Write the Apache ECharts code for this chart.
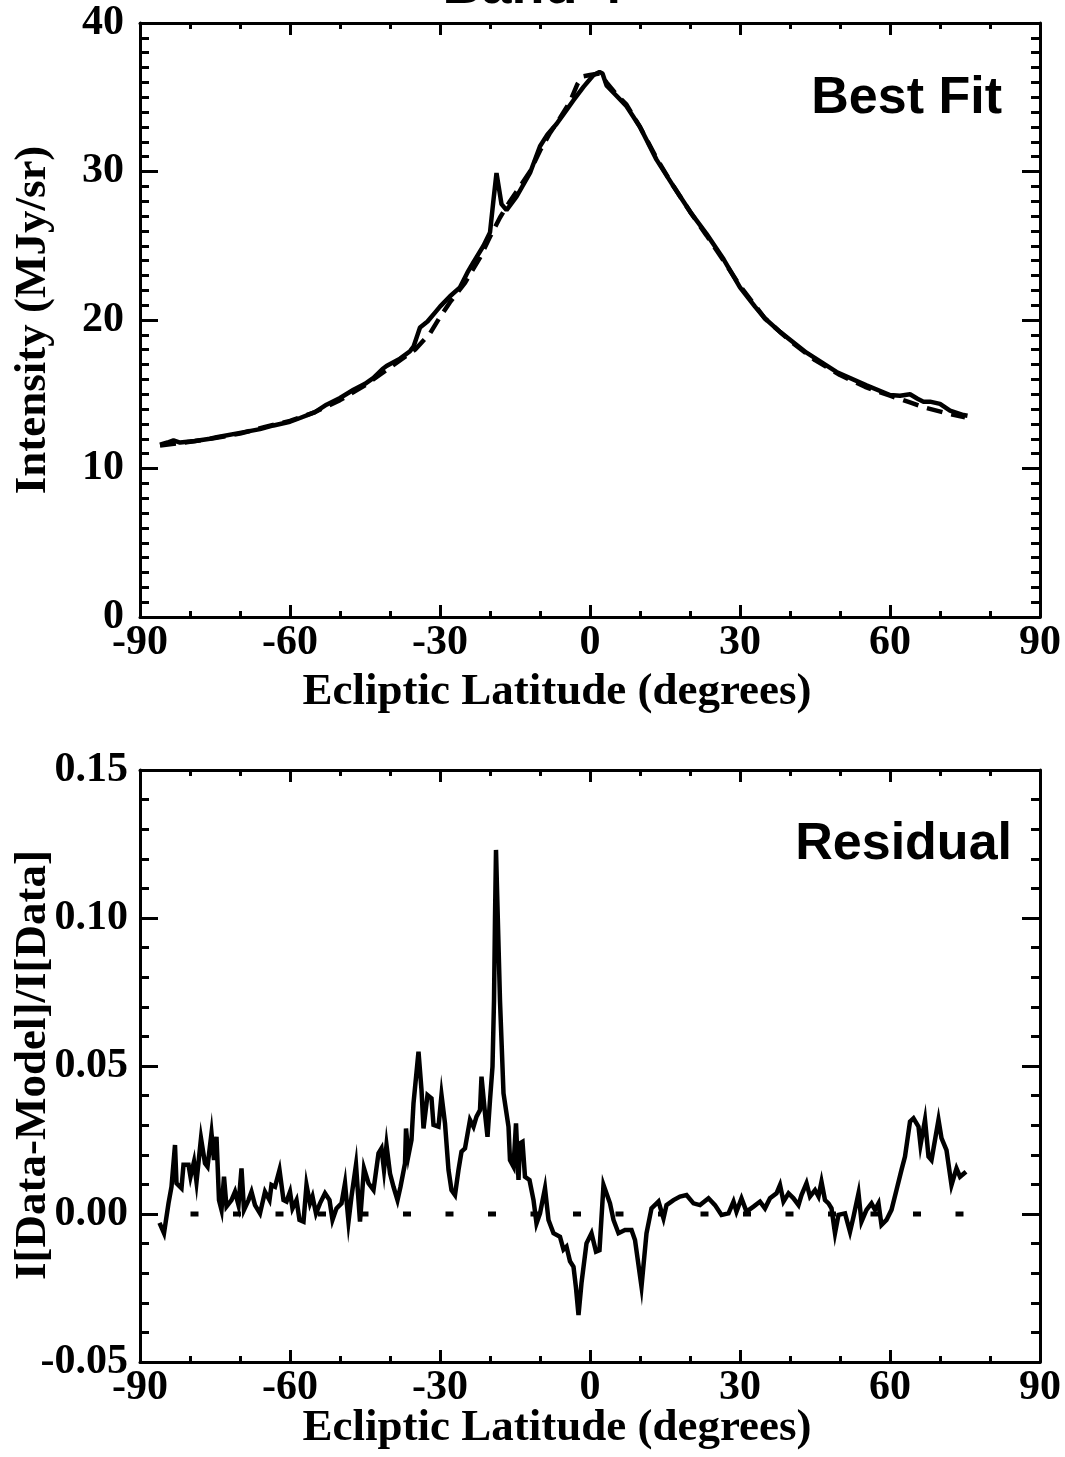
<!DOCTYPE html>
<html>
<head>
<meta charset="utf-8">
<script src="https://cdn.jsdelivr.net/npm/echarts@6/dist/echarts.min.js"></script>
<style>
html,body{margin:0;padding:0;background:#fff;}
#chart{width:1065px;height:1457px;}
</style>
</head>
<body>
<div id="chart"></div>
<script>
// ---- Data ----
const latData = [-86,-84.5,-83.3,-82,-79,-76,-74.7,-70,-66,-63.3,-60,-58,-55,-52.7,-50,-47.3,-45,-43.3,-41.5,-40.7,-38,-36,-35.3,-34.5,-34,-32.5,-31,-30,-28,-26,-24.5,-23.3,-21.3,-20,-19.3,-18.7,-17.7,-16.7,-14.7,-12,-10,-8.5,-6.7,-5,-3.3,-1.3,0.7,1.9,2.5,3.3,5,7.3,10,13.3,16.7,20,23.3,26.7,30,33,35,38,43.3,49.3,55.3,60,62,64,65.5,66.7,68,70,72,74.7,75.5];
const intensityData = [11.6,11.75,11.9,11.75,11.85,12.0,12.1,12.4,12.65,12.9,13.15,13.4,13.8,14.3,14.75,15.3,15.7,16.1,16.7,16.9,17.4,17.9,18.2,19.0,19.5,19.9,20.5,20.9,21.6,22.2,23.2,23.9,25.0,25.9,28.1,29.9,27.8,27.4,28.3,29.9,31.7,32.5,33.2,34.0,34.8,35.7,36.5,36.7,36.6,35.8,35.2,34.4,33.0,30.8,29.0,27.3,25.8,24.1,22.2,20.9,20.1,19.2,17.8,16.5,15.6,14.95,14.9,15.0,14.7,14.5,14.5,14.35,13.9,13.6,13.55];

const latModel = [-86,-80,-75,-70,-65,-60,-55,-50,-45,-40,-35,-32,-30,-28,-25,-22,-20,-18,-16,-14,-12,-10,-8,-6,-4,-2.5,-1.5,0,2,3.3,5,7.3,10,13.3,16.7,20,23.3,26.7,30,35,40,45,50,55,60,64,67,71,75];
const intensityModel = [11.55,11.8,12.05,12.35,12.8,13.2,13.8,14.6,15.6,16.8,18.0,19.1,20.2,21.2,22.5,24.2,25.6,26.9,28.0,29.0,30.0,31.4,32.6,33.6,34.7,35.9,36.4,36.5,36.6,36.0,35.3,34.5,33.0,30.9,29.0,27.3,25.7,24.0,22.3,20.1,18.6,17.3,16.3,15.5,14.9,14.45,14.1,13.75,13.45];

const latResid = [-86.1,-85.2,-84.3,-83.7,-83,-82.7,-81.7,-81.3,-80.3,-79.9,-79.2,-78.7,-77.8,-77,-76.5,-75.7,-75.2,-74.7,-74.2,-73.7,-73.2,-72.7,-71.7,-71,-70.3,-69.7,-69.2,-68.3,-67.7,-67,-66,-65,-64.1,-63.7,-63,-62.1,-61.3,-60.7,-60,-59.5,-58.7,-58.1,-57.3,-56.7,-56,-55.5,-54.8,-54,-53,-52.1,-51.5,-50.7,-49.7,-49,-48.3,-47.7,-46.8,-46,-45.2,-44.3,-43.3,-42.3,-41.7,-41.2,-40.7,-40,-39.3,-38.5,-37.9,-37,-36.8,-36.3,-35.7,-35.3,-34.3,-33.7,-33.3,-32.5,-31.7,-31.3,-30.3,-29.7,-29,-28.3,-27.7,-27,-26.3,-25.7,-25,-24,-23.3,-22.7,-22,-21.7,-21,-20.5,-20,-19.5,-19.2,-19,-18.8,-18.6,-18,-17.3,-16.3,-16,-15.3,-14.8,-14.3,-14,-13.5,-13,-12.1,-11.3,-10.7,-10,-9,-8.3,-7.3,-6,-5.3,-4.7,-4,-3.3,-2.8,-2.3,-1.7,-0.7,0.3,1.2,1.9,2.7,4,4.7,5.7,7,8.3,9,10.3,11.3,12.3,13.7,14.7,15.3,16.7,18,19.3,20.7,22,23.7,25,26.3,27.7,28.7,29.3,30.3,31.3,32.7,34,35,36,37.3,38,38.7,39.7,40.7,41.7,42.3,43.3,44,45,45.7,46.3,47,47.7,48.3,49,49.7,51,52,52.7,53.7,54.3,55.3,56.3,57,57.7,58.3,59.3,60.3,61.3,62.3,63,64,64.7,65.7,66.1,67,67.7,68.3,69.7,70.3,71.3,72.3,73.3,74,75.2];
const residual = [-0.003,-0.0065,0.0036,0.0092,0.0233,0.0104,0.0087,0.0166,0.0166,0.0126,0.0177,0.0109,0.0256,0.0171,0.016,0.0273,0.0182,0.0261,0.0047,0.0014,0.0126,0.0025,0.0047,0.0075,0.003,0.0154,0.0014,0.0047,0.0075,0.003,0.0002,0.0075,0.0047,0.0098,0.0092,0.0149,0.0047,0.0042,0.0075,0.0019,0.0047,-0.002,-0.0026,0.0098,0.0036,0.0059,0.0002,0.0036,0.007,0.0047,-0.002,0.0019,0.0036,0.0104,-0.0026,0.0059,0.0166,-0.0026,0.0154,0.0104,0.0081,0.0205,0.0222,0.0149,0.0233,0.0137,0.0092,0.0047,0.0092,0.0171,0.0289,0.0199,0.025,0.0374,0.0548,0.0419,0.0289,0.0402,0.0391,0.0301,0.0295,0.0402,0.0306,0.0149,0.0081,0.0064,0.0149,0.0211,0.0222,0.0318,0.0295,0.0329,0.0351,0.0464,0.034,0.0261,0.0385,0.0498,0.072,0.1,0.123,0.11,0.072,0.0408,0.0295,0.0182,0.016,0.0306,0.0115,0.0239,0.0244,0.0126,0.0115,0.0047,-0.0032,0.0002,0.0087,-0.002,-0.0065,-0.0077,-0.012,-0.011,-0.016,-0.0178,-0.025,-0.0341,-0.0233,-0.0099,-0.0065,-0.0127,-0.0122,0.0098,0.0036,-0.002,-0.0065,-0.0054,-0.0054,-0.0088,-0.0245,-0.0065,0.0019,0.0042,-0.0015,0.003,0.0047,0.0059,0.0064,0.0036,0.003,0.0053,0.003,-0.0003,0.0002,0.0042,0.0008,0.0053,0.0008,0.0025,0.0042,0.0019,0.0053,0.007,0.0098,0.0042,0.007,0.0053,0.003,0.0064,0.0104,0.0059,0.0081,0.0059,0.0109,0.0047,0.0036,0.0019,-0.0065,-0.0003,0.0002,-0.006,-0.0009,0.007,-0.0026,0.0014,0.0036,0.0014,0.0036,-0.0037,-0.002,0.0014,0.0081,0.0149,0.0194,0.0312,0.0323,0.0295,0.0233,0.0318,0.0194,0.0182,0.0318,0.0256,0.0216,0.0098,0.0154,0.0126,0.0143];

const zeroLineLat = [-86, 76];
const zeroLineVal = [0, 0];

const xTicks = [-90, -60, -30, 0, 30, 60, 90];
const topYTicks = [0, 10, 20, 30, 40];
const bottomYTicks = [-0.05, 0.00, 0.05, 0.10, 0.15];

// ---- Build ----
const zip = (a, b) => a.map((v, i) => [v, b[i]]);
const SERIF = '"Liberation Serif", "Times New Roman", serif';
const SANS = '"Liberation Sans", Arial, sans-serif';
const TICKFONT = 42;

function xAx(grid, pos, showLabel) {
  return {
    type: 'value', gridIndex: grid, position: pos,
    min: xTicks[0], max: xTicks[xTicks.length - 1], interval: 30,
    axisLine: { show: true, onZero: false, lineStyle: { color: '#000', width: 3 } },
    axisTick: { show: true, inside: true, length: 12, lineStyle: { color: '#000', width: 3 } },
    minorTick: { show: true, splitNumber: 3, length: 6, lineStyle: { color: '#000', width: 3 } },
    splitLine: { show: false },
    axisLabel: { show: showLabel, color: '#000', fontFamily: SERIF, fontWeight: 'bold', fontSize: TICKFONT, margin: 5 }
  };
}
function yAx(grid, pos, showLabel, ticks, minorSplit, fmt, margin) {
  return {
    type: 'value', gridIndex: grid, position: pos,
    min: ticks[0], max: ticks[ticks.length - 1], interval: ticks[1] - ticks[0],
    axisLine: { show: true, onZero: false, lineStyle: { color: '#000', width: 3 } },
    axisTick: { show: true, inside: true, length: 18, lineStyle: { color: '#000', width: 3 } },
    minorTick: { show: true, splitNumber: minorSplit, length: 9, lineStyle: { color: '#000', width: 3 } },
    splitLine: { show: false },
    axisLabel: { show: showLabel, color: '#000', fontFamily: SERIF, fontWeight: 'bold', fontSize: TICKFONT, margin: margin, formatter: fmt }
  };
}

const chart = echarts.init(document.getElementById('chart'), null, { renderer: 'canvas' });
chart.setOption({
  backgroundColor: '#fff',
  animation: false,
  grid: [
    { left: 140, top: 23, width: 900, height: 594 },
    { left: 140, top: 770, width: 900, height: 592 }
  ],
  xAxis: [
    xAx(0, 'bottom', true), xAx(0, 'top', false),
    xAx(1, 'bottom', true), xAx(1, 'top', false)
  ],
  yAxis: [
    yAx(0, 'left', true, topYTicks, 10, v => String(Math.round(v)), 16),
    yAx(0, 'right', false, topYTicks, 10, null, 16),
    yAx(1, 'left', true, bottomYTicks, 5, v => (Math.abs(v) < 1e-9 ? 0 : v).toFixed(2), 12),
    yAx(1, 'right', false, bottomYTicks, 5, null, 12)
  ],
  series: [
    { type: 'line', xAxisIndex: 0, yAxisIndex: 0, data: zip(latModel, intensityModel), showSymbol: false, smooth: false,
      lineStyle: { color: '#000', width: 4.5, type: [16, 9] }, z: 2 },
    { type: 'line', xAxisIndex: 0, yAxisIndex: 0, data: zip(latData, intensityData), showSymbol: false,
      lineStyle: { color: '#000', width: 4.5 }, z: 3 },
    { type: 'line', xAxisIndex: 2, yAxisIndex: 2, data: zip(zeroLineLat, zeroLineVal), showSymbol: false,
      lineStyle: { color: '#000', width: 5, type: [8, 34.5], dashOffset: 12 }, z: 2 },
    { type: 'line', xAxisIndex: 2, yAxisIndex: 2, data: zip(latResid, residual), showSymbol: false,
      lineStyle: { color: '#000', width: 4.5, join: 'miter' }, z: 3 }
  ],
  graphic: [
    { type: 'text', left: 'center', top: -39, style: { text: 'Band 4', font: 'bold 54px ' + SANS, fill: '#000' } },
    { type: 'text', x: 1002, y: 99, style: { text: 'Best Fit', font: 'bold 52px ' + SANS, fill: '#000', textAlign: 'right', textVerticalAlign: 'middle' } },
    { type: 'text', x: 1012, y: 845, style: { text: 'Residual', font: 'bold 52px ' + SANS, fill: '#000', textAlign: 'right', textVerticalAlign: 'middle' } },
    { type: 'text', x: 557, y: 692, style: { text: 'Ecliptic Latitude (degrees)', font: 'bold 45px ' + SERIF, fill: '#000', textAlign: 'center', textVerticalAlign: 'middle' } },
    { type: 'text', x: 557, y: 1428, style: { text: 'Ecliptic Latitude (degrees)', font: 'bold 45px ' + SERIF, fill: '#000', textAlign: 'center', textVerticalAlign: 'middle' } },
    { type: 'text', x: 33, y: 320, rotation: Math.PI / 2, style: { text: 'Intensity (MJy/sr)', font: 'bold 45px ' + SERIF, fill: '#000', textAlign: 'center', textVerticalAlign: 'middle' } },
    { type: 'text', x: 33, y: 1065, rotation: Math.PI / 2, style: { text: 'I[Data-Model]/I[Data]', font: 'bold 45px ' + SERIF, fill: '#000', textAlign: 'center', textVerticalAlign: 'middle' } }
  ]
});
</script>
</body>
</html>
